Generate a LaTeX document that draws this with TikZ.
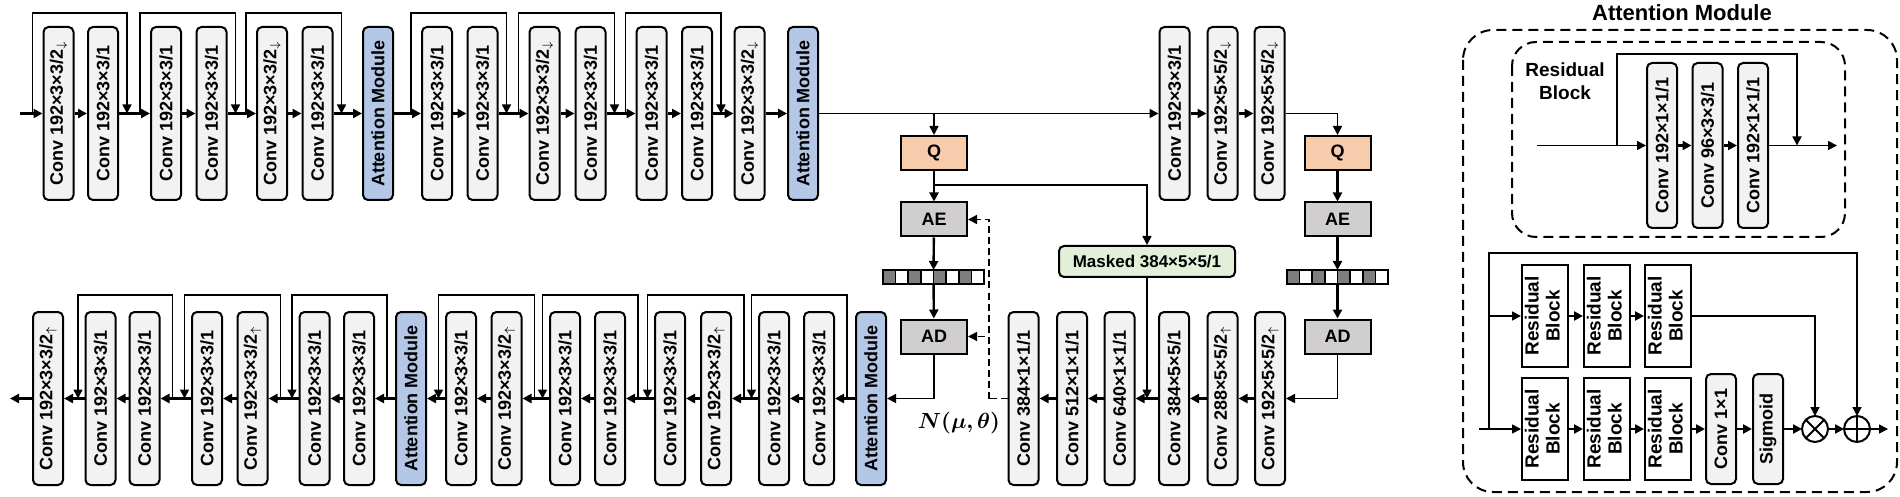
\documentclass[tikz,border=0pt]{standalone}
\usepackage{bm}
\usepackage{fontspec}
\setmainfont{Liberation Sans}
\usepackage{graphicx}
\usetikzlibrary{arrows.meta, positioning, calc}

\definecolor{convgray}{HTML}{F2F2F2}
\definecolor{amblue}{HTML}{B4C7E7}
\definecolor{qpeach}{HTML}{F8CBAD}
\definecolor{codgray}{HTML}{D0CECE}
\definecolor{maskgreen}{HTML}{E2F0D9}
\definecolor{bitdark}{HTML}{7F7F7F}

\newcommand{\vtext}[1]{\rotatebox{90}{#1}}
\newcommand{\dnarr}{$_\downarrow$}
\newcommand{\uparr}{$_\uparrow$}
\newcommand{\resblock}{\vtext{\begin{tabular}{@{}c@{}}Residual\\Block\end{tabular}}}

\begin{document}
\begin{tikzpicture}[x=0.5pt, y=-0.5pt,
    font=\bfseries\fontsize{9}{10.5}\selectfont,
    conv/.style={draw, line width=1pt, rounded corners=2.5pt, fill=convgray,
        minimum width=15pt, minimum height=86.5pt, inner sep=0pt},
    attn/.style={conv, fill=amblue},
    coder/.style={draw, line width=1pt, fill=codgray, minimum width=33pt, minimum height=17pt},
    quant/.style={coder, fill=qpeach},
    resblk/.style={draw, line width=1pt, fill=white, minimum width=23pt,
        minimum height=51pt, inner sep=0pt, font=\bfseries\fontsize{9.5}{10.5}\selectfont},
    op/.style={draw, circle, line width=1pt, fill=white, minimum size=13pt, inner sep=0pt, outer sep=0pt},
    bitbar/.style={minimum width=50.5pt, minimum height=7pt, inner sep=0pt, outer sep=0pt},
    arr/.style={-{Triangle[length=4.5pt,width=4.5pt]}, line width=1.2pt},
    link/.style={-{Triangle[length=4.5pt,width=4.5pt]}, line width=0.8pt},
    dashline/.style={line width=0.8pt, dash pattern=on 3.5pt off 2pt},
    panel/.style={line width=1pt, dash pattern=on 5pt off 3pt}]
\useasboundingbox (0,0) rectangle (1900,497);

% encoder (top row)
\node[conv] (t1) at (58.5,113.5) {\vtext{Conv 192×3×3/2\dnarr}};
\node[conv] (t2) at (103,113.5) {\vtext{Conv 192×3×3/1}};
\node[conv] (t3) at (166,113.5) {\vtext{Conv 192×3×3/1}};
\node[conv] (t4) at (211.5,113.5) {\vtext{Conv 192×3×3/1}};
\node[conv] (t5) at (272,113.5) {\vtext{Conv 192×3×3/2\dnarr}};
\node[conv] (t6) at (317.5,113.5) {\vtext{Conv 192×3×3/1}};
\node[attn] (am1) at (378,113.5) {\vtext{Attention Module}};
\node[conv] (t7) at (437,113.5) {\vtext{Conv 192×3×3/1}};
\node[conv] (t8) at (482.5,113.5) {\vtext{Conv 192×3×3/1}};
\node[conv] (t9) at (544.5,113.5) {\vtext{Conv 192×3×3/2\dnarr}};
\node[conv] (t10) at (590.5,113.5) {\vtext{Conv 192×3×3/1}};
\node[conv] (t11) at (651.5,113.5) {\vtext{Conv 192×3×3/1}};
\node[conv] (t12) at (697,113.5) {\vtext{Conv 192×3×3/1}};
\node[conv] (t13) at (749.5,113.5) {\vtext{Conv 192×3×3/2\dnarr}};
\node[attn] (am2) at (803,113.5) {\vtext{Attention Module}};

\coordinate (in) at (20,113.5);
\draw[arr] (in) -- (t1);
\foreach \a/\b in {t1/t2, t2/t3, t3/t4, t4/t5, t5/t6, t6/am1, am1/t7, t7/t8,
    t8/t9, t9/t10, t10/t11, t11/t12, t12/t13, t13/am2}
    \draw[arr] (\a) -- (\b);
\foreach \a/\b in {t1/t2, t3/t4, t5/t6, t7/t8, t9/t10, t11/t12}
    \draw[link] ([xshift=-5pt]\a.west) -- ++(0,-100.5) -| ([xshift=4pt]\b.east);

% hyper encoder
\node[conv] (c1) at (1174.5,113.5) {\vtext{Conv 192×3×3/1}};
\node[conv] (c2) at (1222.5,113.5) {\vtext{Conv 192×5×5/2\dnarr}};
\node[conv] (c3) at (1269.5,113.5) {\vtext{Conv 192×5×5/2\dnarr}};
\draw[link] (am2) -- (c1);
\draw[arr] (c1) -- (c2);
\draw[arr] (c2) -- (c3);

% quantize and code
\node[quant] (q1) at (934,153) {Q};
\node[coder] (ae1) at (934,219.5) {AE};
\node[bitbar] (bits1) at (933.5,277) {};
\node[coder] (ad1) at (934,336.5) {AD};
\node[quant] (q2) at (1337.5,153) {Q};
\node[coder] (ae2) at (1337.5,219.5) {AE};
\node[bitbar] (bits2) at (1337.5,277) {};
\node[coder] (ad2) at (1337.5,336.5) {AD};
\foreach \i/\c in {0/bitdark, 1/white, 2/bitdark, 3/white, 4/bitdark, 5/white, 6/bitdark, 7/white} {
    \draw[line width=0.8pt, fill=\c] ($(bits1.north west)+(\i*12.625,0)$) rectangle ++(12.625,14);
    \draw[line width=0.8pt, fill=\c] ($(bits2.north west)+(\i*12.625,0)$) rectangle ++(12.625,14);
}
\draw[link] (q1 |- am2.east) -- (q1);
\draw[arr] (q1) -- (ae1);
\draw[arr] (ae1) -- (bits1);
\draw[arr] (bits1) -- (ad1);
\draw[link] (c3) -| (q2);
\draw[arr] (q2) -- (ae2);
\draw[arr] (ae2) -- (bits2);
\draw[arr] (bits2) -- (ad2);

% context model and entropy parameters
\node[conv, minimum width=88pt, minimum height=15.5pt, fill=maskgreen,
    font=\bfseries\fontsize{8.5}{10}\selectfont] (mask) at (1147,261.5) {Masked 384×5×5/1};
\draw[link] ([yshift=-7pt]q1.south) -| (mask);

\node[conv] (d1) at (1023.5,398.5) {\vtext{Conv 384×1×1/1}};
\node[conv] (d2) at (1072,398.5) {\vtext{Conv 512×1×1/1}};
\node[conv] (d3) at (1119.5,398.5) {\vtext{Conv 640×1×1/1}};
\node[conv] (d4) at (1174,398.5) {\vtext{Conv 384×5×5/1}};
\node[conv] (d5) at (1222.5,398.5) {\vtext{Conv 288×5×5/2\uparr}};
\node[conv] (d6) at (1270,398.5) {\vtext{Conv 192×5×5/2\uparr}};
\draw[link] (ad2) |- (d6);
\foreach \a/\b in {d6/d5, d5/d4, d4/d3, d3/d2, d2/d1}
    \draw[arr] (\a) -- (\b);
\draw[link] (mask) -- (mask |- d4.west);

\coordinate (nd) at (989,398.5);
\draw[dashline] (d1) -- (nd);
\draw[link, dashline] (nd) |- (ae1);
\draw[link, dashline] (nd) |- (ad1);
\node[anchor=east, font=\fontsize{11}{13}\selectfont] (gauss) at (1007,423) {$\bm{N(\mu,\theta)}$};

% decoder (bottom row)
\node[conv] (b1) at (48,398.5) {\vtext{Conv 192×3×3/2\uparr}};
\node[conv] (b2) at (100.5,398.5) {\vtext{Conv 192×3×3/1}};
\node[conv] (b3) at (144.5,398.5) {\vtext{Conv 192×3×3/1}};
\node[conv] (b4) at (207,398.5) {\vtext{Conv 192×3×3/1}};
\node[conv] (b5) at (252.5,398.5) {\vtext{Conv 192×3×3/2\uparr}};
\node[conv] (b6) at (314.5,398.5) {\vtext{Conv 192×3×3/1}};
\node[conv] (b7) at (359,398.5) {\vtext{Conv 192×3×3/1}};
\node[attn] (am3) at (411,398.5) {\vtext{Attention Module}};
\node[conv] (b8) at (461,398.5) {\vtext{Conv 192×3×3/1}};
\node[conv] (b9) at (506.5,398.5) {\vtext{Conv 192×3×3/2\uparr}};
\node[conv] (b10) at (565,398.5) {\vtext{Conv 192×3×3/1}};
\node[conv] (b11) at (610,398.5) {\vtext{Conv 192×3×3/1}};
\node[conv] (b12) at (670,398.5) {\vtext{Conv 192×3×3/1}};
\node[conv] (b13) at (716,398.5) {\vtext{Conv 192×3×3/2\uparr}};
\node[conv] (b14) at (774,398.5) {\vtext{Conv 192×3×3/1}};
\node[conv] (b15) at (819,398.5) {\vtext{Conv 192×3×3/1}};
\node[attn] (am4) at (871,398.5) {\vtext{Attention Module}};

\draw[link] (ad1) |- (am4);
\foreach \a/\b in {am4/b15, b15/b14, b14/b13, b13/b12, b12/b11, b11/b10, b10/b9,
    b9/b8, b8/am3, am3/b7, b7/b6, b6/b5, b5/b4, b4/b3, b3/b2, b2/b1}
    \draw[arr] (\a) -- (\b);
\coordinate (out) at (10,398.5);
\draw[arr] (b1) -- (out);
\foreach \a/\b in {b3/b2, b5/b4, b7/b6, b9/b8, b11/b10, b13/b12, b15/b14}
    \draw[link] ([xshift=6pt]\a.east) -- ++(0,-103.5) -| ([xshift=-3.25pt]\b.west);

% attention module detail
\node[font=\bfseries\fontsize{11}{13}\selectfont] (amtitle) at (1682,13) {Attention Module};
\draw[panel, rounded corners=15pt] (1463,30) rectangle (1897,492);
\draw[panel, rounded corners=12pt] (1512,42) rectangle (1845,237);
\node[align=center, font=\bfseries\fontsize{9.5}{11.5}\selectfont] (rblabel) at (1565,81) {Residual\\Block};

\node[conv, minimum height=82.5pt] (r1) at (1662,145.5) {\vtext{Conv 192×1×1/1}};
\node[conv, minimum height=82.5pt] (r2) at (1707.5,145.5) {\vtext{Conv 96×3×3/1}};
\node[conv, minimum height=82.5pt] (r3) at (1753,145.5) {\vtext{Conv 192×1×1/1}};
\coordinate (rin) at (1537,145.5);
\coordinate (rout) at (1837,145.5);
\draw[link] (rin) -- (r1);
\draw[arr] (r1) -- (r2);
\draw[arr] (r2) -- (r3);
\draw[link] (r3) -- (rout);
\draw[link] ([xshift=-14.5pt]r1.west) -- ++(0,-91.5) -| ([xshift=14pt]r3.east);

\node[resblk] (u1) at (1545,316) {\resblock};
\node[resblk] (u2) at (1607,316) {\resblock};
\node[resblk] (u3) at (1668,316) {\resblock};
\node[resblk] (l1) at (1545,429) {\resblock};
\node[resblk] (l2) at (1607,429) {\resblock};
\node[resblk] (l3) at (1668,429) {\resblock};
\node[conv, minimum height=55pt] (cv) at (1721,429) {\vtext{Conv 1×1}};
\node[conv, minimum height=55pt] (sig) at (1768,429) {\vtext{Sigmoid}};
\node[op] (mul) at (1815,429) {};
\node[op] (add) at (1857,429) {};
\draw[line width=1pt] (mul.north east) -- (mul.south west) (mul.north west) -- (mul.south east);
\draw[line width=1pt] (add.north) -- (add.south) (add.west) -- (add.east);

\coordinate (amin) at (1479,429);
\coordinate (amout) at (1888,429);
\draw[link] (amin) -- (l1);
\draw[link] ([xshift=-16pt]l1.west) -- ++(0,-176) -| (add);
\draw[link] ([xshift=-16pt]l1.west) |- (u1);
\foreach \a/\b in {u1/u2, u2/u3, l1/l2, l2/l3, l3/cv, cv/sig, sig/mul, mul/add}
    \draw[arr] (\a) -- (\b);
\draw[link] (u3) -| (mul);
\draw[link] (add) -- (amout);
\end{tikzpicture}
\end{document}
